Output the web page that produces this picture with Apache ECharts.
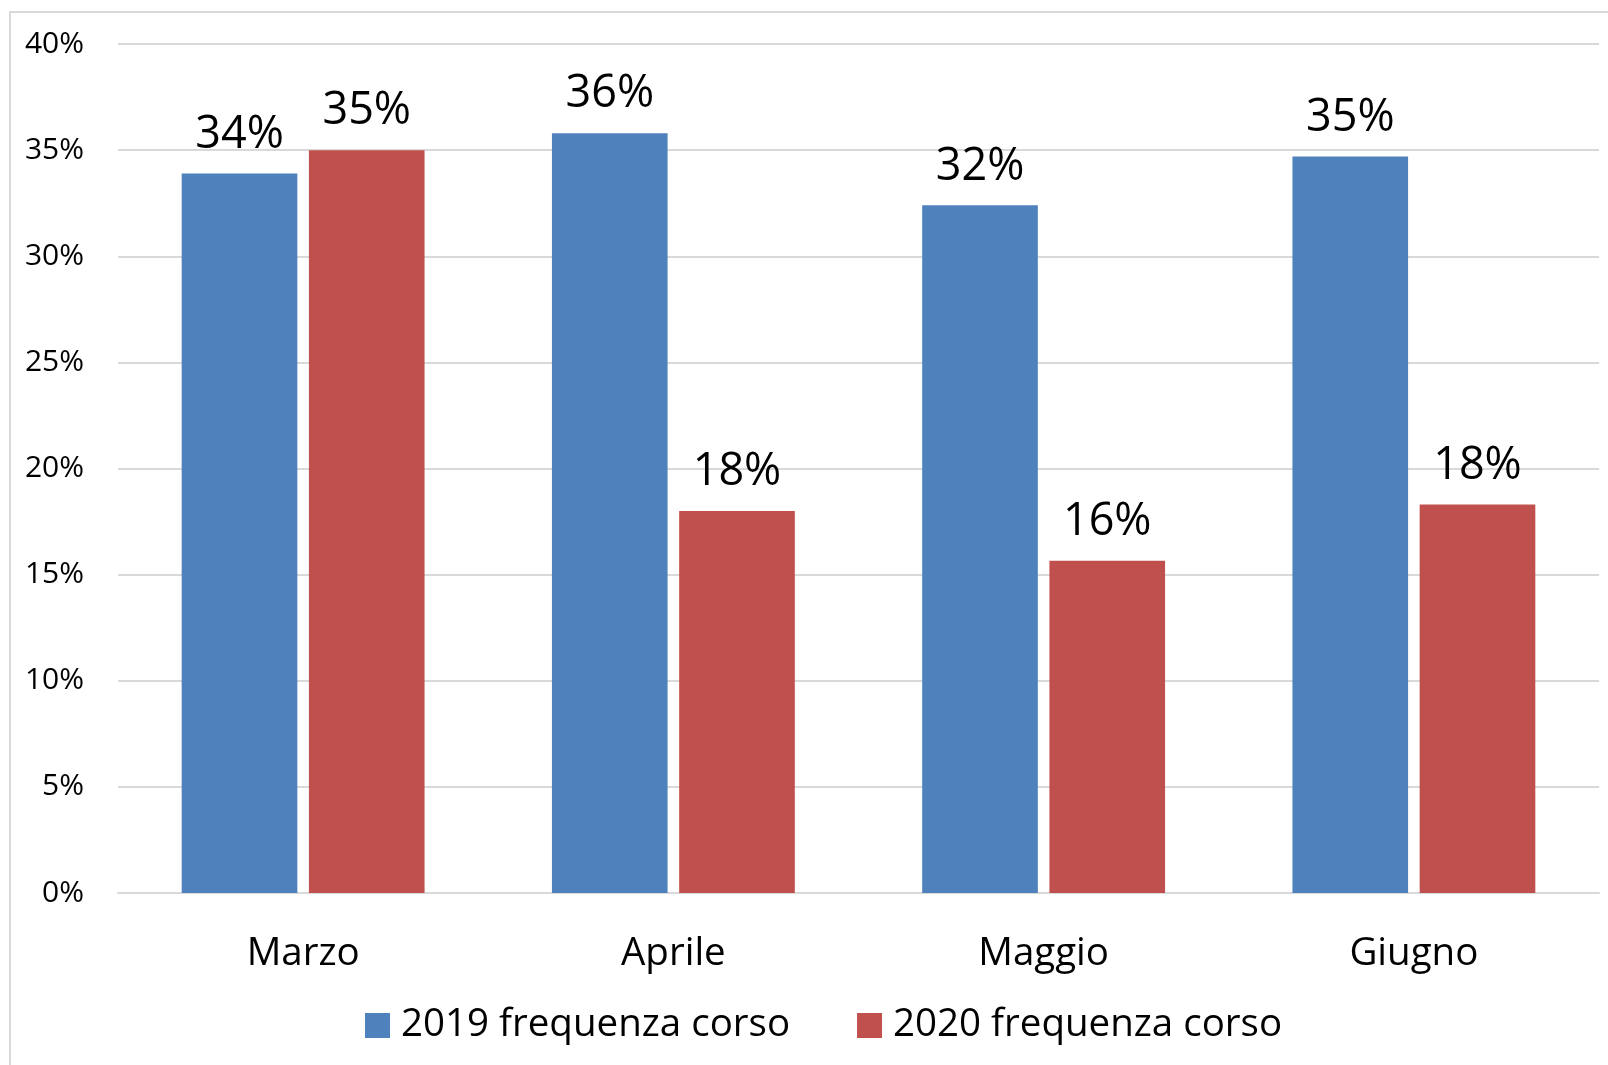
<!DOCTYPE html>
<html>
<head>
<meta charset="utf-8">
<script src="https://cdn.jsdelivr.net/npm/echarts@6/dist/echarts.min.js"></script>
<style>html,body{margin:0;padding:0;background:#fff;}#c{width:1608px;height:1065px;}</style>
</head>
<body>
<div id="c"></div>
<script>
const categories = ['Marzo', 'Aprile', 'Maggio', 'Giugno'];
const seriesNames = ['2019 frequenza corso', '2020 frequenza corso'];
const values2019 = [33.9, 35.8, 32.4, 34.7];
const values2020 = [35.0, 18.0, 15.65, 18.3];
const yTicks = { min: 0, max: 40, interval: 5 };

const FONT = '"Open Sans", "Noto Sans", sans-serif';
const chart = echarts.init(document.getElementById('c'));
const labelCfg = {
  show: true, position: 'top', distance: 16,
  fontFamily: FONT, fontSize: 45, color: '#000',
  formatter: p => Math.round(p.value) + '%'
};
chart.setOption({
  animation: false,
  backgroundColor: '#fff',
  graphic: [{
    type: 'rect', silent: true,
    shape: { x: 10, y: 12, width: 1700, height: 1200 },
    style: { fill: 'none', stroke: '#d9d9d9', lineWidth: 2 }
  }],
  grid: { left: 118, right: 9, top: 44, bottom: 172 },
  legend: {
    data: seriesNames,
    top: 1001, left: 360,
    itemWidth: 25, itemHeight: 25, itemGap: 67,
    icon: 'rect',
    textStyle: { fontFamily: FONT, fontSize: 38.5, color: '#000', padding: [0, 0, 0, 6] }
  },
  xAxis: {
    type: 'category', data: categories,
    axisTick: { show: false },
    axisLine: { lineStyle: { color: '#d9d9d9', width: 2 } },
    axisLabel: { fontFamily: FONT, fontSize: 38.5, color: '#000', margin: 42 }
  },
  yAxis: {
    type: 'value', min: yTicks.min, max: yTicks.max, interval: yTicks.interval,
    axisLine: { show: false }, axisTick: { show: false },
    splitLine: { lineStyle: { color: '#d9d9d9', width: 2 } },
    axisLabel: { fontFamily: FONT, fontSize: 30, color: '#000', margin: 34, formatter: '{value}%' }
  },
  series: [
    { name: seriesNames[0], type: 'bar', data: values2019, barGap: '10%', barCategoryGap: '34.4%',
      itemStyle: { color: '#4F81BD' }, label: labelCfg },
    { name: seriesNames[1], type: 'bar', data: values2020, barGap: '10%', barCategoryGap: '34.4%',
      itemStyle: { color: '#C0504D' }, label: labelCfg }
  ]
});
</script>
</body>
</html>
